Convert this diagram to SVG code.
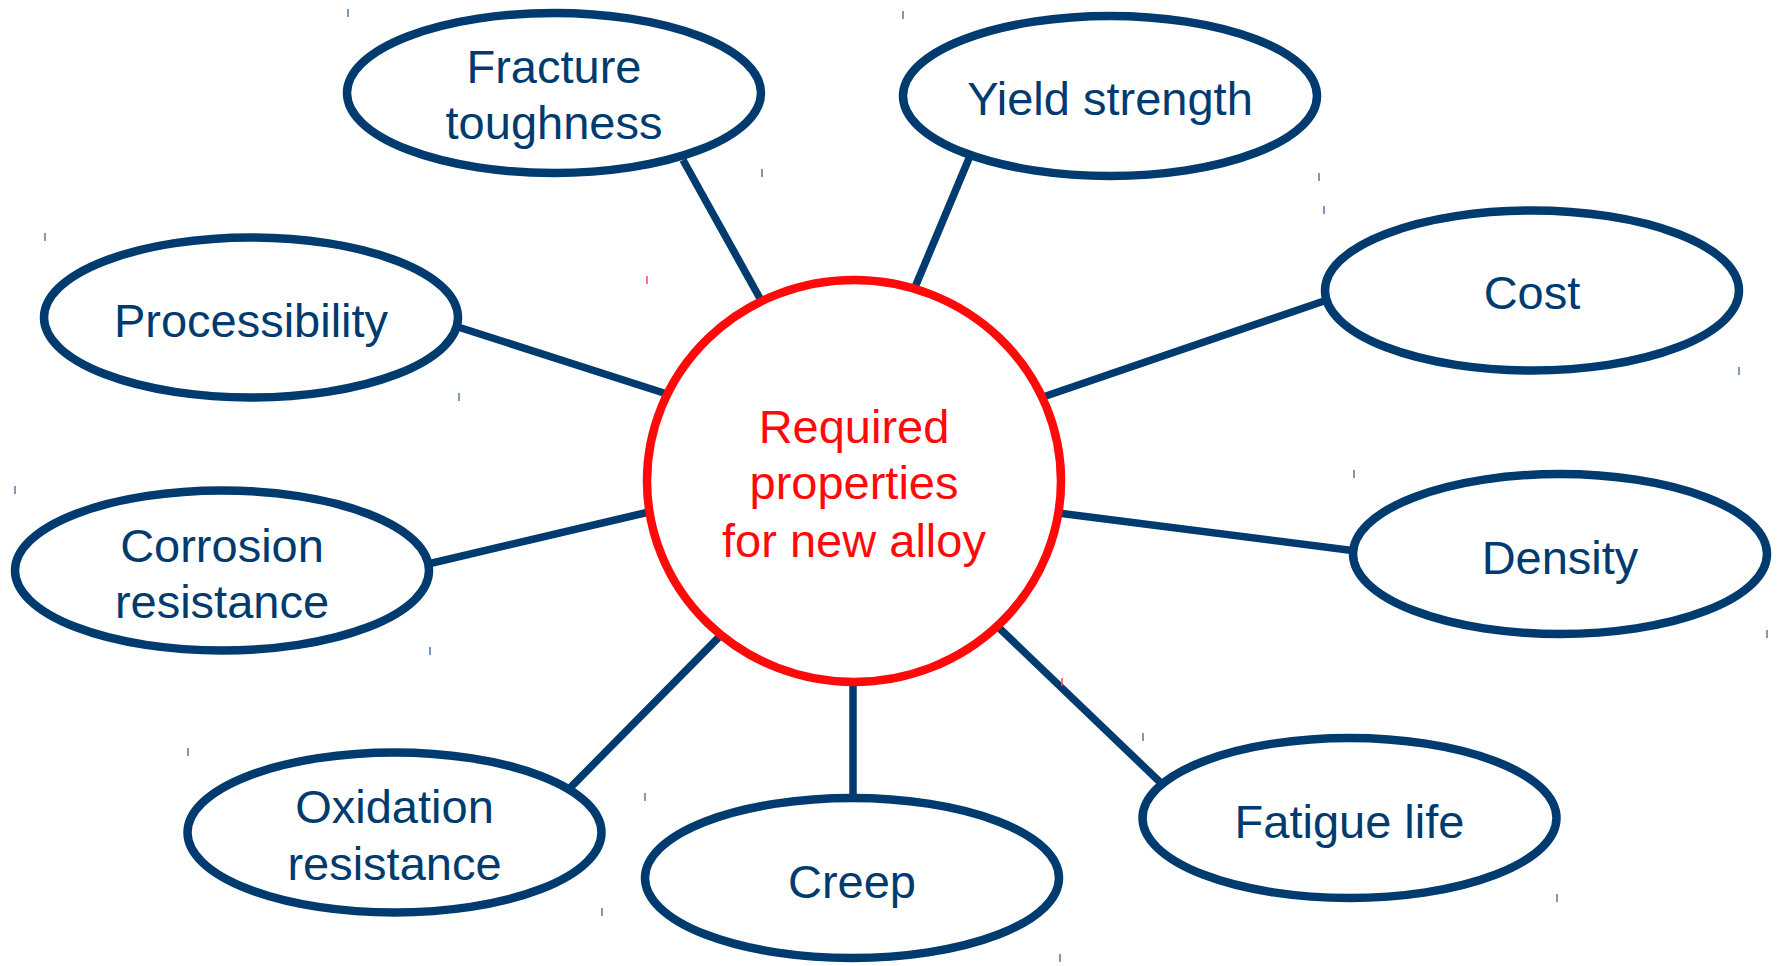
<svg xmlns="http://www.w3.org/2000/svg" width="1778" height="966" viewBox="0 0 1778 966">
<style>
.bg{fill:#ffffff}
.node ellipse{fill:#ffffff;stroke:#003b6f;stroke-width:8.5}
.node text{font-family:"Liberation Sans",Arial,sans-serif;font-size:47px;fill:#003b6f;text-anchor:middle}
#center ellipse{fill:#ffffff;stroke:#ff0a0a;stroke-width:8.5}
#center text{fill:#ff0a0a}
#connectors line{stroke:#003b6f;stroke-width:7.5;stroke-linecap:butt}
.tick{stroke:#5b80a8;stroke-width:1.6}
.tick.red{stroke:#ff5050}
</style>
<rect class="bg" x="0" y="0" width="1778" height="966"/>
<g id="connectors">
<line x1="683" y1="160" x2="762" y2="302"/>
<line x1="970" y1="156" x2="913" y2="292"/>
<line x1="1327" y1="300" x2="1043" y2="397"/>
<line x1="458" y1="327" x2="667" y2="394"/>
<line x1="1058" y1="513" x2="1356" y2="551"/>
<line x1="428" y1="564" x2="649" y2="512"/>
<line x1="568" y1="790" x2="722" y2="634"/>
<line x1="853" y1="680" x2="853" y2="798"/>
<line x1="995" y1="624" x2="1163" y2="785"/>
</g>
<g id="center" class="node">
<ellipse cx="854" cy="481" rx="207" ry="201"/>
<text x="854" y="443">Required</text>
<text x="854" y="499">properties</text>
<text x="854" y="557">for new alloy</text>
</g>
<g id="fracture" class="node">
<ellipse cx="554" cy="93" rx="207" ry="80"/>
<text x="554" y="83">Fracture</text>
<text x="554" y="139">toughness</text>
</g>
<g id="yield" class="node">
<ellipse cx="1110" cy="96" rx="207" ry="80"/>
<text x="1110" y="115">Yield strength</text>
</g>
<g id="cost" class="node">
<ellipse cx="1532" cy="290.5" rx="207" ry="80"/>
<text x="1532" y="309">Cost</text>
</g>
<g id="processibility" class="node">
<ellipse cx="251" cy="317.5" rx="207" ry="80"/>
<text x="251" y="337">Processibility</text>
</g>
<g id="density" class="node">
<ellipse cx="1560" cy="554" rx="207" ry="80"/>
<text x="1560" y="574">Density</text>
</g>
<g id="corrosion" class="node">
<ellipse cx="222" cy="570.5" rx="207" ry="80"/>
<text x="222" y="562">Corrosion</text>
<text x="222" y="618">resistance</text>
</g>
<g id="fatigue" class="node">
<ellipse cx="1349.5" cy="818" rx="207" ry="80"/>
<text x="1349.5" y="837.5">Fatigue life</text>
</g>
<g id="oxidation" class="node">
<ellipse cx="394.5" cy="832.5" rx="207" ry="80"/>
<text x="394.5" y="823">Oxidation</text>
<text x="394.5" y="880">resistance</text>
</g>
<g id="creep" class="node">
<ellipse cx="852" cy="878" rx="207" ry="80"/>
<text x="852" y="898">Creep</text>
</g>
<g id="ticks">
<line class="tick" x1="348" y1="9" x2="348" y2="17"/>
<line class="tick" x1="903" y1="11" x2="903" y2="19"/>
<line class="tick" x1="762" y1="169" x2="762" y2="177"/>
<line class="tick" x1="1319" y1="173" x2="1319" y2="181"/>
<line class="tick" x1="1324" y1="206" x2="1324" y2="214"/>
<line class="tick" x1="45" y1="233" x2="45" y2="241"/>
<line class="tick" x1="1739" y1="367" x2="1739" y2="375"/>
<line class="tick" x1="459" y1="393" x2="459" y2="401"/>
<line class="tick" x1="15" y1="486" x2="15" y2="494"/>
<line class="tick" x1="430" y1="647" x2="430" y2="655"/>
<line class="tick" x1="1354" y1="470" x2="1354" y2="478"/>
<line class="tick" x1="1767" y1="630" x2="1767" y2="638"/>
<line class="tick" x1="188" y1="748" x2="188" y2="756"/>
<line class="tick" x1="1143" y1="733" x2="1143" y2="741"/>
<line class="tick" x1="645" y1="793" x2="645" y2="801"/>
<line class="tick" x1="602" y1="908" x2="602" y2="916"/>
<line class="tick" x1="1557" y1="894" x2="1557" y2="902"/>
<line class="tick" x1="1060" y1="954" x2="1060" y2="962"/>
<line class="tick red" x1="647" y1="276" x2="647" y2="284"/>
<line class="tick red" x1="1062" y1="678" x2="1062" y2="686"/>
</g>
</svg>
